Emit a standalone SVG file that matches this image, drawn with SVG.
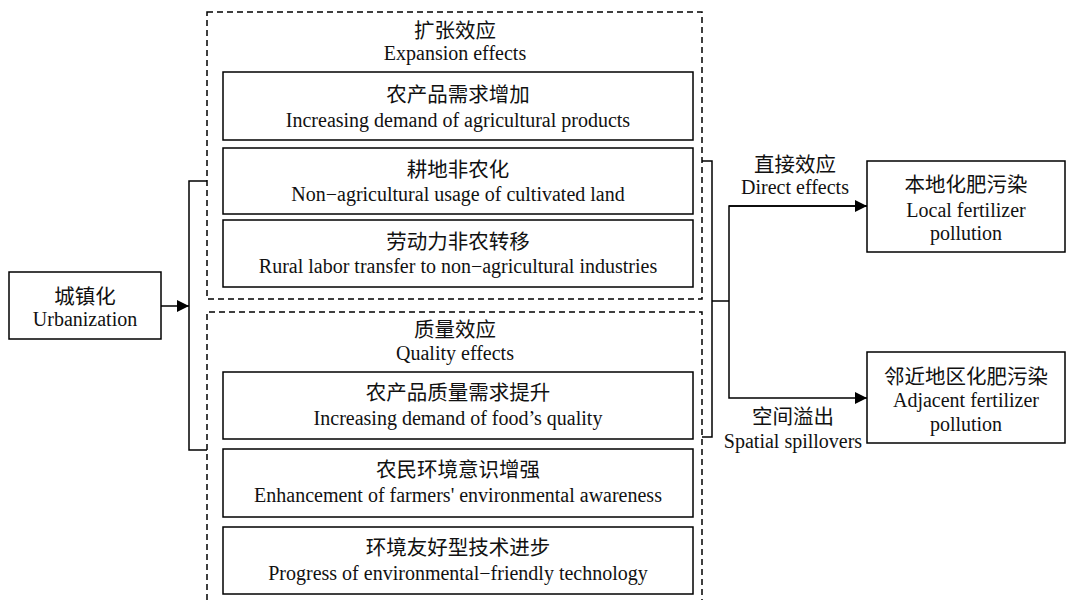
<svg xmlns="http://www.w3.org/2000/svg" width="1069" height="600" viewBox="0 0 1069 600">
<defs>
<marker id="arr" markerWidth="12" markerHeight="12" refX="12" refY="6" orient="auto" markerUnits="userSpaceOnUse"><path d="M0,0 L12,6 L0,12 Z" fill="#000"/></marker>
<style>
.box{fill:#fff;stroke:#000;stroke-width:1.5}
.dash{fill:none;stroke:#000;stroke-width:1.5;stroke-dasharray:6,4}
.ln{fill:none;stroke:#000;stroke-width:1.5}
.zh{font-family:"Noto Sans CJK SC",sans-serif;font-size:20.5px;fill:#111;text-anchor:middle}
.en{font-family:"Liberation Serif",serif;font-size:20px;fill:#111;text-anchor:middle}
</style>
</defs>
<rect width="1069" height="600" fill="#fff"/>
<g id="connectors">
<line class="ln" x1="161" y1="306" x2="189" y2="306" marker-end="url(#arr)"/>
<polyline class="ln" points="207,181 189,181 189,450 207,450"/>
<polyline class="ln" points="702,161 712,161 712,437 702,437"/>
<line class="ln" x1="712" y1="301" x2="729" y2="301"/>
<polyline class="ln" points="867,206 729,206 729,398 867,398" marker-end="url(#arr)"/>
<line class="ln" x1="729" y1="206" x2="867" y2="206" marker-end="url(#arr)"/>
<text class="zh" x="795" y="172">直接效应</text>
<text class="en" x="795" y="194">Direct effects</text>
<text class="zh" x="793" y="424">空间溢出</text>
<text class="en" x="793" y="448">Spatial spillovers</text>
</g>
<g id="urbanization">
<rect class="box" x="9" y="272" width="152" height="67"/>
<text class="zh" x="85" y="304">城镇化</text>
<text class="en" x="85" y="326">Urbanization</text>
</g>
<g id="expansion">
<rect class="dash" x="207" y="12" width="495" height="287"/>
<text class="zh" x="455" y="38">扩张效应</text>
<text class="en" x="455" y="60">Expansion effects</text>
</g>
<g id="quality">
<path class="dash" d="M207,600 V312 H702 V600"/>
<text class="zh" x="455" y="337">质量效应</text>
<text class="en" x="455" y="360">Quality effects</text>
</g>
<g id="e1">
<rect class="box" x="223" y="72" width="470" height="68"/>
<text class="zh" x="458" y="102">农产品需求增加</text>
<text class="en" x="458" y="127">Increasing demand of agricultural products</text>
</g>
<g id="e2">
<rect class="box" x="223" y="148" width="470" height="66"/>
<text class="zh" x="458" y="177">耕地非农化</text>
<text class="en" x="458" y="201">Non−agricultural usage of cultivated land</text>
</g>
<g id="e3">
<rect class="box" x="223" y="220" width="470" height="67"/>
<text class="zh" x="458" y="249">劳动力非农转移</text>
<text class="en" x="458" y="273">Rural labor transfer to non−agricultural industries</text>
</g>
<g id="q1">
<rect class="box" x="223" y="372" width="470" height="67"/>
<text class="zh" x="458" y="400">农产品质量需求提升</text>
<text class="en" x="458" y="425">Increasing demand of food’s quality</text>
</g>
<g id="q2">
<rect class="box" x="223" y="449" width="470" height="68"/>
<text class="zh" x="458" y="477">农民环境意识增强</text>
<text class="en" x="458" y="502">Enhancement of farmers' environmental awareness</text>
</g>
<g id="q3">
<rect class="box" x="223" y="527" width="470" height="67"/>
<text class="zh" x="458" y="555">环境友好型技术进步</text>
<text class="en" x="458" y="580">Progress of environmental−friendly technology</text>
</g>
<g id="local">
<rect class="box" x="867" y="161" width="198" height="91"/>
<text class="zh" x="966" y="192">本地化肥污染</text>
<text class="en" x="966" y="217">Local fertilizer</text>
<text class="en" x="966" y="240">pollution</text>
</g>
<g id="adjacent">
<rect class="box" x="867" y="352" width="198" height="91"/>
<text class="zh" x="966" y="384">邻近地区化肥污染</text>
<text class="en" x="966" y="407">Adjacent fertilizer</text>
<text class="en" x="966" y="431">pollution</text>
</g>
</svg>
